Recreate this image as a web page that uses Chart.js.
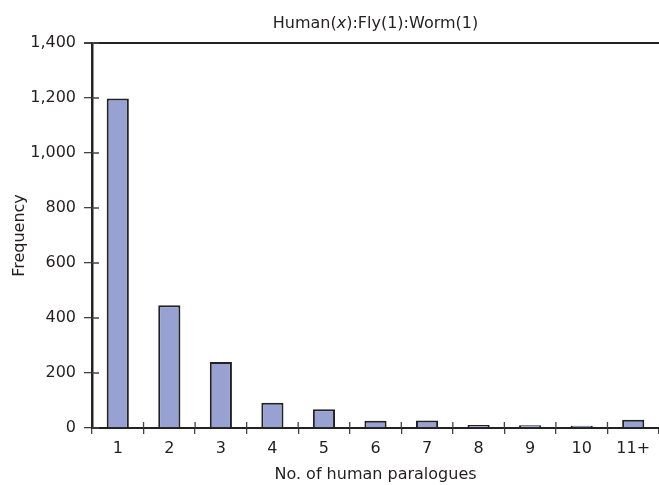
<!DOCTYPE html>
<html>
<head>
<meta charset="utf-8">
<script src="https://cdn.jsdelivr.net/npm/chart.js@4"></script>
<style>
  html, body { margin: 0; padding: 0; background: #fff; }
  #wrap { position: relative; width: 659px; height: 485px; }
  #title {
    position: absolute; left: 92px; width: 567px; top: 13px;
    text-align: center; font: 16px/20px "DejaVu Sans", sans-serif; color: #231f20;
  }
</style>
</head>
<body>
<div id="wrap">
  <div id="title">Human(<i>x</i>):Fly(1):Worm(1)</div>
  <canvas id="chart" width="659" height="485"></canvas>
</div>
<script>
// Paralogue counts
const categories = ['1', '2', '3', '4', '5', '6', '7', '8', '9', '10', '11+'];
const frequency = [1198, 446, 240, 92, 68, 26, 27, 11, 10, 8, 30];
const yMin = 0;
const yMax = 1400;
const yStep = 200;

const ink = '#231f20';
const axisColor = '#222';
const tickColor = '#444';
const font = { family: '"DejaVu Sans", sans-serif', size: 16 };

// Short tick stubs pointing into the plot (the reference ticks cross the axes)
const crossTicks = {
    id: 'crossTicks',
    afterDraw(chart) {
        const { ctx, scales: { x, y } } = chart;
        ctx.save();
        ctx.strokeStyle = tickColor;
        ctx.lineWidth = 1.3;
        ctx.beginPath();
        y.ticks.forEach((t, i) => {
            const py = y.getPixelForTick(i);
            ctx.moveTo(y.right, py);
            ctx.lineTo(y.right + 7, py);
        });
        for (let i = 1; i < x.ticks.length; i++) {
            const px = (x.getPixelForTick(i - 1) + x.getPixelForTick(i)) / 2;
            ctx.moveTo(px, x.top);
            ctx.lineTo(px, x.top - 6);
        }
        ctx.stroke();
        ctx.restore();
    }
};

new Chart(document.getElementById('chart'), {
    type: 'bar',
    data: {
        labels: categories,
        datasets: [{
            data: frequency,
            backgroundColor: '#97a2d3',
            borderColor: axisColor,
            borderWidth: 2,
            barPercentage: 0.43,
            categoryPercentage: 1
        }]
    },
    options: {
        responsive: false,
        animation: false,
        locale: 'en-US',
        layout: { padding: { top: 43, right: 0, left: 0, bottom: 0 } },
        plugins: { legend: { display: false }, tooltip: { enabled: false } },
        scales: {
            x: {
                afterFit: s => { s.height = 57; },
                grid: { display: true, color: 'transparent', tickColor: tickColor, tickLength: 6, lineWidth: 1.3 },
                border: { color: axisColor, width: 2 },
                ticks: { color: ink, font: font, padding: 5 },
                title: { display: true, text: 'No. of human paralogues', color: ink, font: font, padding: { top: 4, bottom: 1 } }
            },
            y: {
                min: yMin,
                max: yMax,
                afterFit: s => { s.width = 92; },
                grid: {
                    color: ctx => ctx.tick && ctx.tick.value === yMax ? axisColor : 'transparent',
                    lineWidth: ctx => ctx.tick && ctx.tick.value === yMax ? 2 : 1.3,
                    tickColor: tickColor,
                    tickLength: 8
                },
                border: { color: axisColor, width: 2.5 },
                ticks: { stepSize: yStep, color: ink, font: font, padding: 8 },
                title: { display: true, text: 'Frequency', color: ink, font: font, padding: { top: 10, bottom: 0 } }
            }
        }
    },
    plugins: [crossTicks]
});
</script>
</body>
</html>
